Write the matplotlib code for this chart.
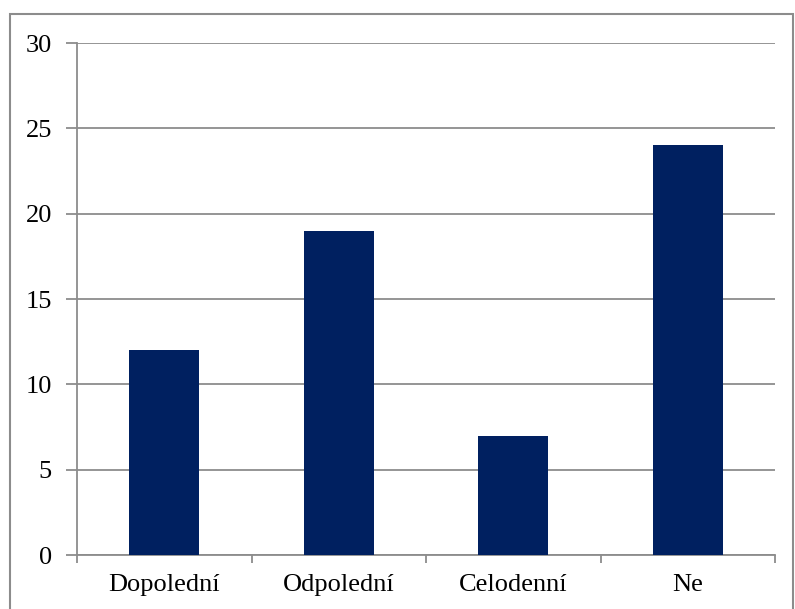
import matplotlib.pyplot as plt
from matplotlib.patches import Rectangle
import numpy as np

categories = ['Dopolední', 'Odpolední', 'Celodenní', 'Ne']
values = [12, 19, 7, 24]

plt.rcParams['font.family'] = ['Liberation Serif', 'DejaVu Serif']

fig = plt.figure(figsize=(7.95, 6.09), dpi=100)
ax = fig.add_axes([77/795, 54/609, 698/795, 512/609])

x = np.arange(len(categories))
ax.bar(x, values, width=0.4, color='#002060', zorder=3)

ax.set_xlim(-0.5, len(categories) - 0.5)
ax.set_ylim(0, 30)
ax.set_yticks(range(0, 31, 5))
ax.yaxis.grid(True, color='#8c8c8c', linewidth=1.3, zorder=0)

ax.set_xticks(x)
ax.set_xticklabels(categories)
ax.set_xticks(np.arange(-0.5, len(categories), 1), minor=True)
ax.tick_params(axis='x', which='major', length=0, pad=14, labelsize=19)
ax.tick_params(axis='x', which='minor', length=6, width=1.3, color='#8c8c8c')
ax.tick_params(axis='y', length=8, width=1.3, color='#8c8c8c', pad=10, labelsize=19)

for side in ['top', 'right']:
    ax.spines[side].set_visible(False)
for side in ['left', 'bottom']:
    ax.spines[side].set_color('#8c8c8c')
    ax.spines[side].set_linewidth(1.3)

# outer chart border
fig.patches.append(Rectangle((10/795, -0.05), 783/795, (609 - 14)/609 + 0.05,
                             transform=fig.transFigure, fill=False,
                             edgecolor='#8c8c8c', linewidth=1.5))

fig.savefig('out.png', dpi=100)
